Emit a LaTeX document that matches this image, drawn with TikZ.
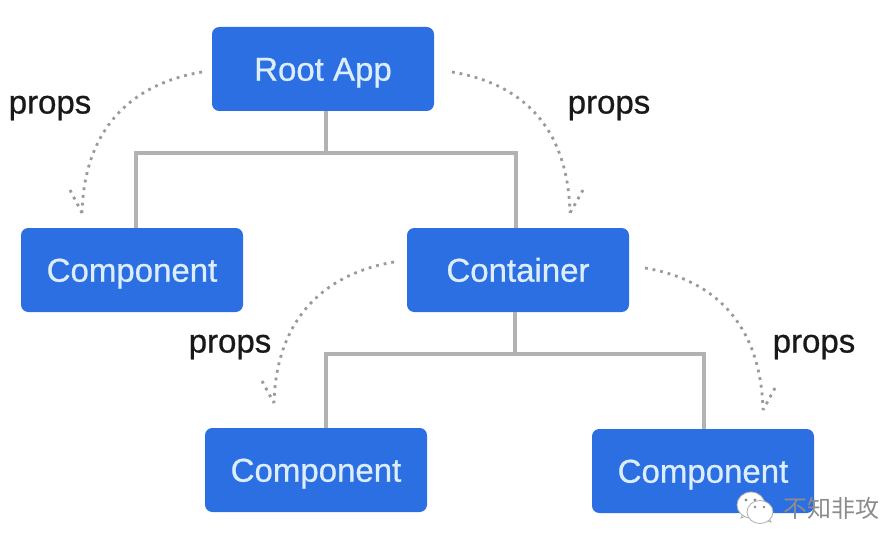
\documentclass[tikz,border=0pt]{standalone}
\usepackage{fontspec}
\setmainfont{Liberation Sans}
\newfontfamily\heavy[FakeBold=0.7]{Liberation Sans}
\newfontfamily\cjk{Noto Sans CJK SC}
\usetikzlibrary{calc}
\definecolor{boxblue}{HTML}{2C6FE3}
\definecolor{boxtext}{HTML}{DCEEFB}
\definecolor{treegray}{HTML}{B2B2B2}
\definecolor{dotgray}{HTML}{9A9A9A}
\definecolor{markgray}{HTML}{8C8C8C}
\tikzset{
  x=0.75pt,y=-0.75pt,
  box/.style={fill=boxblue,rounded corners=5.5pt,minimum width=166.5pt,minimum height=63pt,inner sep=0pt,text=boxtext,text height=17.5pt,text depth=0pt,font=\heavy\fontsize{24.75pt}{28pt}\selectfont},
  tree/.style={draw=treegray,line width=3.6pt},
  flow/.style={draw=dotgray,line width=2.1pt,dash pattern=on 2.1pt off 3.7pt},
  lab/.style={text=black!90,font=\heavy\fontsize{24.75pt}{28pt}\selectfont,inner sep=0pt},
  bubble/.style={draw=markgray!70,line width=0.6pt,fill=white},
  eye/.style={fill=markgray,draw=none}
}
\begin{document}
\begin{tikzpicture}
\useasboundingbox (0,0) rectangle (882,542);
\node[box] (root) at (323,69) {Root App};
\node[box] (c1) at (132,270) {Component};
\node[box] (cont) at (518,270) {Container};
\node[box] (c2) at (316,470) {Component};
\node[box] (c3) at (703,471) {Component};
% tree connectors
\coordinate (j1) at (326,153);
\coordinate (j2) at (515,354);
\draw[tree] (root.south -| j1) -- (j1);
\draw[tree] (c1.north -| 136,0) |- (j1) -| (cont.north -| 516,0);
\draw[tree] (cont.south -| j2) -- (j2);
\draw[tree] (c2.north -| 326,0) |- (j2) -| (c3.north -| 704,0);
% dotted props arrows
\coordinate (a1) at (202,72); \coordinate (t1) at (82,213); \coordinate (b1) at (70,190);
\coordinate (a2) at (452,72); \coordinate (t2) at (570,213); \coordinate (b2) at (583,190);
\coordinate (a3) at (394,262); \coordinate (t3) at (274,403); \coordinate (b3) at (262,381);
\coordinate (a4) at (645,268); \coordinate (t4) at (763,410); \coordinate (b4) at (775,388);
\draw[flow] (a1) .. controls (125,85) and (84,135) .. (t1);
\draw[flow] (b1) -- (t1);
\draw[flow] (a2) .. controls (530,85) and (568,135) .. (t2);
\draw[flow] (b2) -- (t2);
\draw[flow] (a3) .. controls (318,275) and (276,325) .. (t3);
\draw[flow] (b3) -- (t3);
\draw[flow] (a4) .. controls (722,281) and (761,332) .. (t4);
\draw[flow] (b4) -- (t4);
% labels
\node[lab,anchor=base] (p1) at (50,113.5) {props};
\node[lab,anchor=base] (p2) at (609,113.5) {props};
\node[lab,anchor=base] (p3) at (230,352.5) {props};
\node[lab,anchor=base] (p4) at (814,352.5) {props};
% watermark
\fill[bubble] (741,518) -- (745,509) -- (752,514) -- cycle;
\draw[bubble] (751,505) ellipse [x radius=14,y radius=13];
\fill[eye] (746,500) circle (1.6); \fill[eye] (755,500) circle (1.6);
\fill[bubble] (771,522) -- (766,512) -- (759,518) -- cycle;
\draw[bubble] (760,512) ellipse [x radius=13,y radius=11.5];
\fill[eye] (755,507) circle (1.4); \fill[eye] (764,507) circle (1.4);
\node[inner sep=0pt,anchor=west,text=markgray,font=\cjk\fontsize{18pt}{20pt}\selectfont] (wm) at (783,508) {不知非攻};
\end{tikzpicture}
\end{document}
